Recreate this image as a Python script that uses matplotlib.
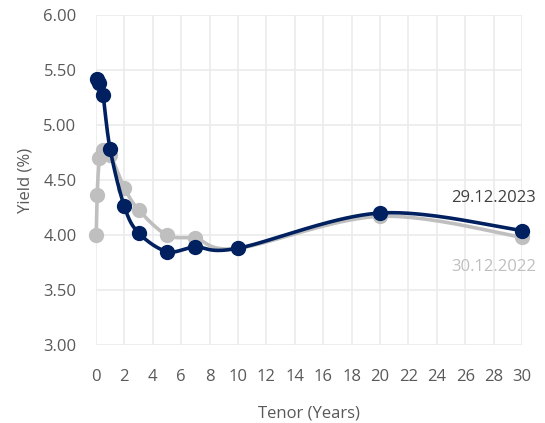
import numpy as np
import matplotlib.pyplot as plt

# yield curve points
tenor_2023 = [0.083, 0.25, 0.5, 1, 2, 3, 5, 7, 10, 20, 30]
yield_2023 = [5.42, 5.38, 5.27, 4.78, 4.26, 4.02, 3.85, 3.89, 3.88, 4.20, 4.04]

tenor_2022 = [0.02, 0.083, 0.25, 0.5, 1, 2, 3, 5, 7, 10, 20, 30]
yield_2022 = [4.00, 4.36, 4.70, 4.77, 4.73, 4.43, 4.23, 4.00, 3.97, 3.88, 4.17, 3.98]

label_2023 = "29.12.2023"
label_2022 = "30.12.2022"

NAVY = "#002060"
GREY = "#bfbfbf"
TEXT = "#595959"


def smooth(xs, ys, n=40):
    # Excel-style smoothed line: cubic bezier through the points
    x = np.asarray(xs, float)
    y = np.asarray(ys, float)
    px = np.concatenate([[x[0]], x, [x[-1]]])
    py = np.concatenate([[y[0]], y, [y[-1]]])
    out_x, out_y = [], []
    t = np.linspace(0, 1, n)
    for i in range(1, len(px) - 2):
        p0 = np.array([px[i], py[i]])
        p3 = np.array([px[i + 1], py[i + 1]])
        p1 = p0 + (np.array([px[i + 1], py[i + 1]]) - np.array([px[i - 1], py[i - 1]])) / 6
        p2 = p3 - (np.array([px[i + 2], py[i + 2]]) - np.array([px[i], py[i]])) / 6
        b = ((1 - t) ** 3)[:, None] * p0 + (3 * (1 - t) ** 2 * t)[:, None] * p1 \
            + (3 * (1 - t) * t ** 2)[:, None] * p2 + (t ** 3)[:, None] * p3
        out_x.extend(b[:, 0])
        out_y.extend(b[:, 1])
    return out_x, out_y


plt.rcParams['font.family'] = ['Open Sans', 'DejaVu Sans']

fig = plt.figure(figsize=(5.45, 4.23), dpi=100)
ax = fig.add_axes([0.176, 0.184, 0.782, 0.781])

sx, sy = smooth(tenor_2022, yield_2022)
ax.plot(sx, sy, color=GREY, lw=2.6, zorder=2)
ax.plot(tenor_2022, yield_2022, 'o', color=GREY, ms=10, zorder=3)

sx, sy = smooth(tenor_2023, yield_2023)
ax.plot(sx, sy, color=NAVY, lw=2.6, zorder=4)
ax.plot(tenor_2023, yield_2023, 'o', color=NAVY, ms=10, zorder=5)

ax.text(31.0, 4.34, label_2023, color="#404040", fontsize=12, ha='right', va='center')
ax.text(31.0, 3.71, label_2022, color=GREY, fontsize=12, ha='right', va='center')

ax.set_xlim(0, 30)
ax.set_ylim(3.0, 6.0)
ax.set_xticks(np.arange(0, 31, 2))
ax.set_yticks(np.arange(3.0, 6.01, 0.5))
ax.set_yticklabels([f"{v:.2f}" for v in np.arange(3.0, 6.01, 0.5)])
ax.grid(True, color="#ebebeb", lw=1.2)
ax.set_axisbelow(True)
for s in ax.spines.values():
    s.set_visible(False)
ax.tick_params(length=0, labelsize=12, colors=TEXT, pad=17)
ax.tick_params(axis='y', pad=14)

ax.set_xlabel("Tenor (Years)", fontsize=12, color=TEXT, labelpad=15)
ax.set_ylabel("Yield (%)", fontsize=12, color=TEXT, labelpad=7)
for ln in ax.lines:
    ln.set_clip_on(False)

fig.savefig("out.png", dpi=100)
